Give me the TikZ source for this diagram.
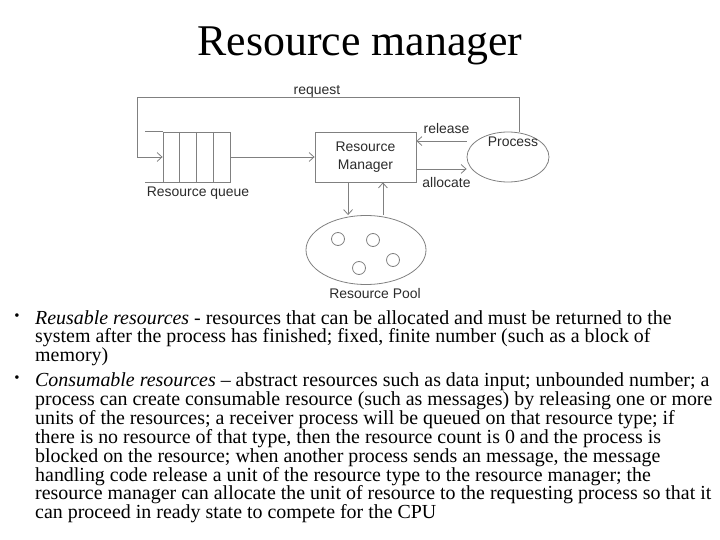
\documentclass[tikz,border=0pt]{standalone}
\usepackage{fontspec}
\usepackage{graphicx}
\setmainfont{Liberation Serif}
\newfontfamily\arialfont{Liberation Sans}
\usetikzlibrary{arrows.meta, positioning, shapes.geometric}
\definecolor{diagline}{HTML}{808080}
\definecolor{diagtext}{HTML}{2b2b2b}
\newcommand\bodyfont{\fontsize{20}{19}\selectfont\lineskiplimit-8pt\relax}

\begin{document}
\begin{tikzpicture}[x=1bp, y=-1bp,
      box/.style={rectangle, draw=diagline, line width=0.8pt, minimum width=101bp,
                  minimum height=50bp, align=center, inner sep=0pt,
                  font=\arialfont\fontsize{14}{18}\selectfont, text=diagtext},
      blob/.style={ellipse, draw=diagline, line width=0.8pt, inner sep=0pt},
      token/.style={circle, draw=diagline, line width=0.8pt, inner sep=0pt,
                    minimum size=13bp},
      arr/.style={-{Straight Barb[length=5pt, width=9pt]}, line width=0.8pt, color=diagline},
      plain/.style={line width=0.8pt, color=diagline},
      label/.style={font=\arialfont\fontsize{14}{16}\selectfont, text=diagtext},
      body/.style={font=\bodyfont, align=left, inner sep=0pt},
    ]
      \useasboundingbox (0,0) rectangle (720,540);
      \node[font=\fontsize{44}{48}\selectfont] (title) at (360,46) {Resource manager};

      % queue, manager, process, pool
      \node[rectangle, draw=diagline, line width=0.8pt, minimum width=67bp,
            minimum height=50bp, inner sep=0pt] (queue) at (196.5,157) {};
      \foreach \cx in {179.75, 196.5, 213.25}
        \draw[plain] (\cx,132) -- (\cx,182);
      \draw[plain] (queue.north west) -- ++(-18,0);
      \draw[plain] (queue.south west) -- ++(-18,0);
      \node[label] (qname) at (198,193) {Resource queue};

      \node[box] (mgr) at (365.5,157) {Resource\\Manager};
      \node[blob, minimum width=82bp, minimum height=50bp] (proc) at (508,157) {};
      \node[label] (pname) at (513,142) {Process};

      \node[blob, minimum width=120bp, minimum height=69bp] (pool) at (366,250) {};
      \foreach \n/\cx/\cy in {r1/338/239, r2/373/240, r3/359/268, r4/393/260}
        \node[token] (\n) at (\cx,\cy) {};
      \node[label] (plname) at (375,294) {Resource Pool};

      \coordinate (reqleft) at (137,97);
      \draw[arr] ([xshift=11pt]proc.north) |- (reqleft) |- (queue.west);
      \node[label] (reqname) at (317,91) {request};
      \draw[arr] (queue.east) -- (mgr.west);
      \draw[arr] ([yshift=16pt]proc.west) -- ([yshift=16pt]mgr.east)
                 node[midway,above=4pt,xshift=5pt,label]{release};
      \draw[arr] ([yshift=-12pt]mgr.east) -- ([yshift=-12pt]proc.west)
                 node[midway,below=5pt,xshift=5pt,label]{allocate};
      \draw[arr] ([xshift=-17.5pt]mgr.south) -- ([xshift=-17.5pt]mgr.south |- pool.north);
      \draw[arr] ([xshift=17.5pt]mgr.south |- pool.north) -- ([xshift=17.5pt]mgr.south);

      % the two kinds of resources
      \node[body, anchor=north west] (reuse) at (35,310)
        {\textit{Reusable resources} - resources that can be allocated and must be returned to the\\
         system after the process has finished; fixed, finite number (such as a block of\\
         memory)};
      \node[body, anchor=north west] (consume) at ([yshift=-6pt]reuse.south west)
        {\textit{Consumable resources} -- abstract resources such as data input; unbounded number; a\\
         process can create consumable resource (such as messages) by releasing one or more\\
         units of the resources; a receiver process will be queued on that resource type; if\\
         there is no resource of that type, then the resource count is 0 and the process is\\
         blocked on the resource; when another process sends an message, the message\\
         handling code release a unit of the resource type to the resource manager; the\\
         resource manager can allocate the unit of resource to the requesting process so that it\\
         can proceed in ready state to compete for the CPU};
      \node[body, anchor=north, text height=13.6bp] (dot1) at ([xshift=-18bp]reuse.north west)
        {\raisebox{3.5pt}{\scalebox{0.75}{\textbullet}}};
      \node[body, anchor=north, text height=13.6bp] (dot2) at ([xshift=-18bp]consume.north west)
        {\raisebox{3.5pt}{\scalebox{0.75}{\textbullet}}};
    \end{tikzpicture}
\end{document}
